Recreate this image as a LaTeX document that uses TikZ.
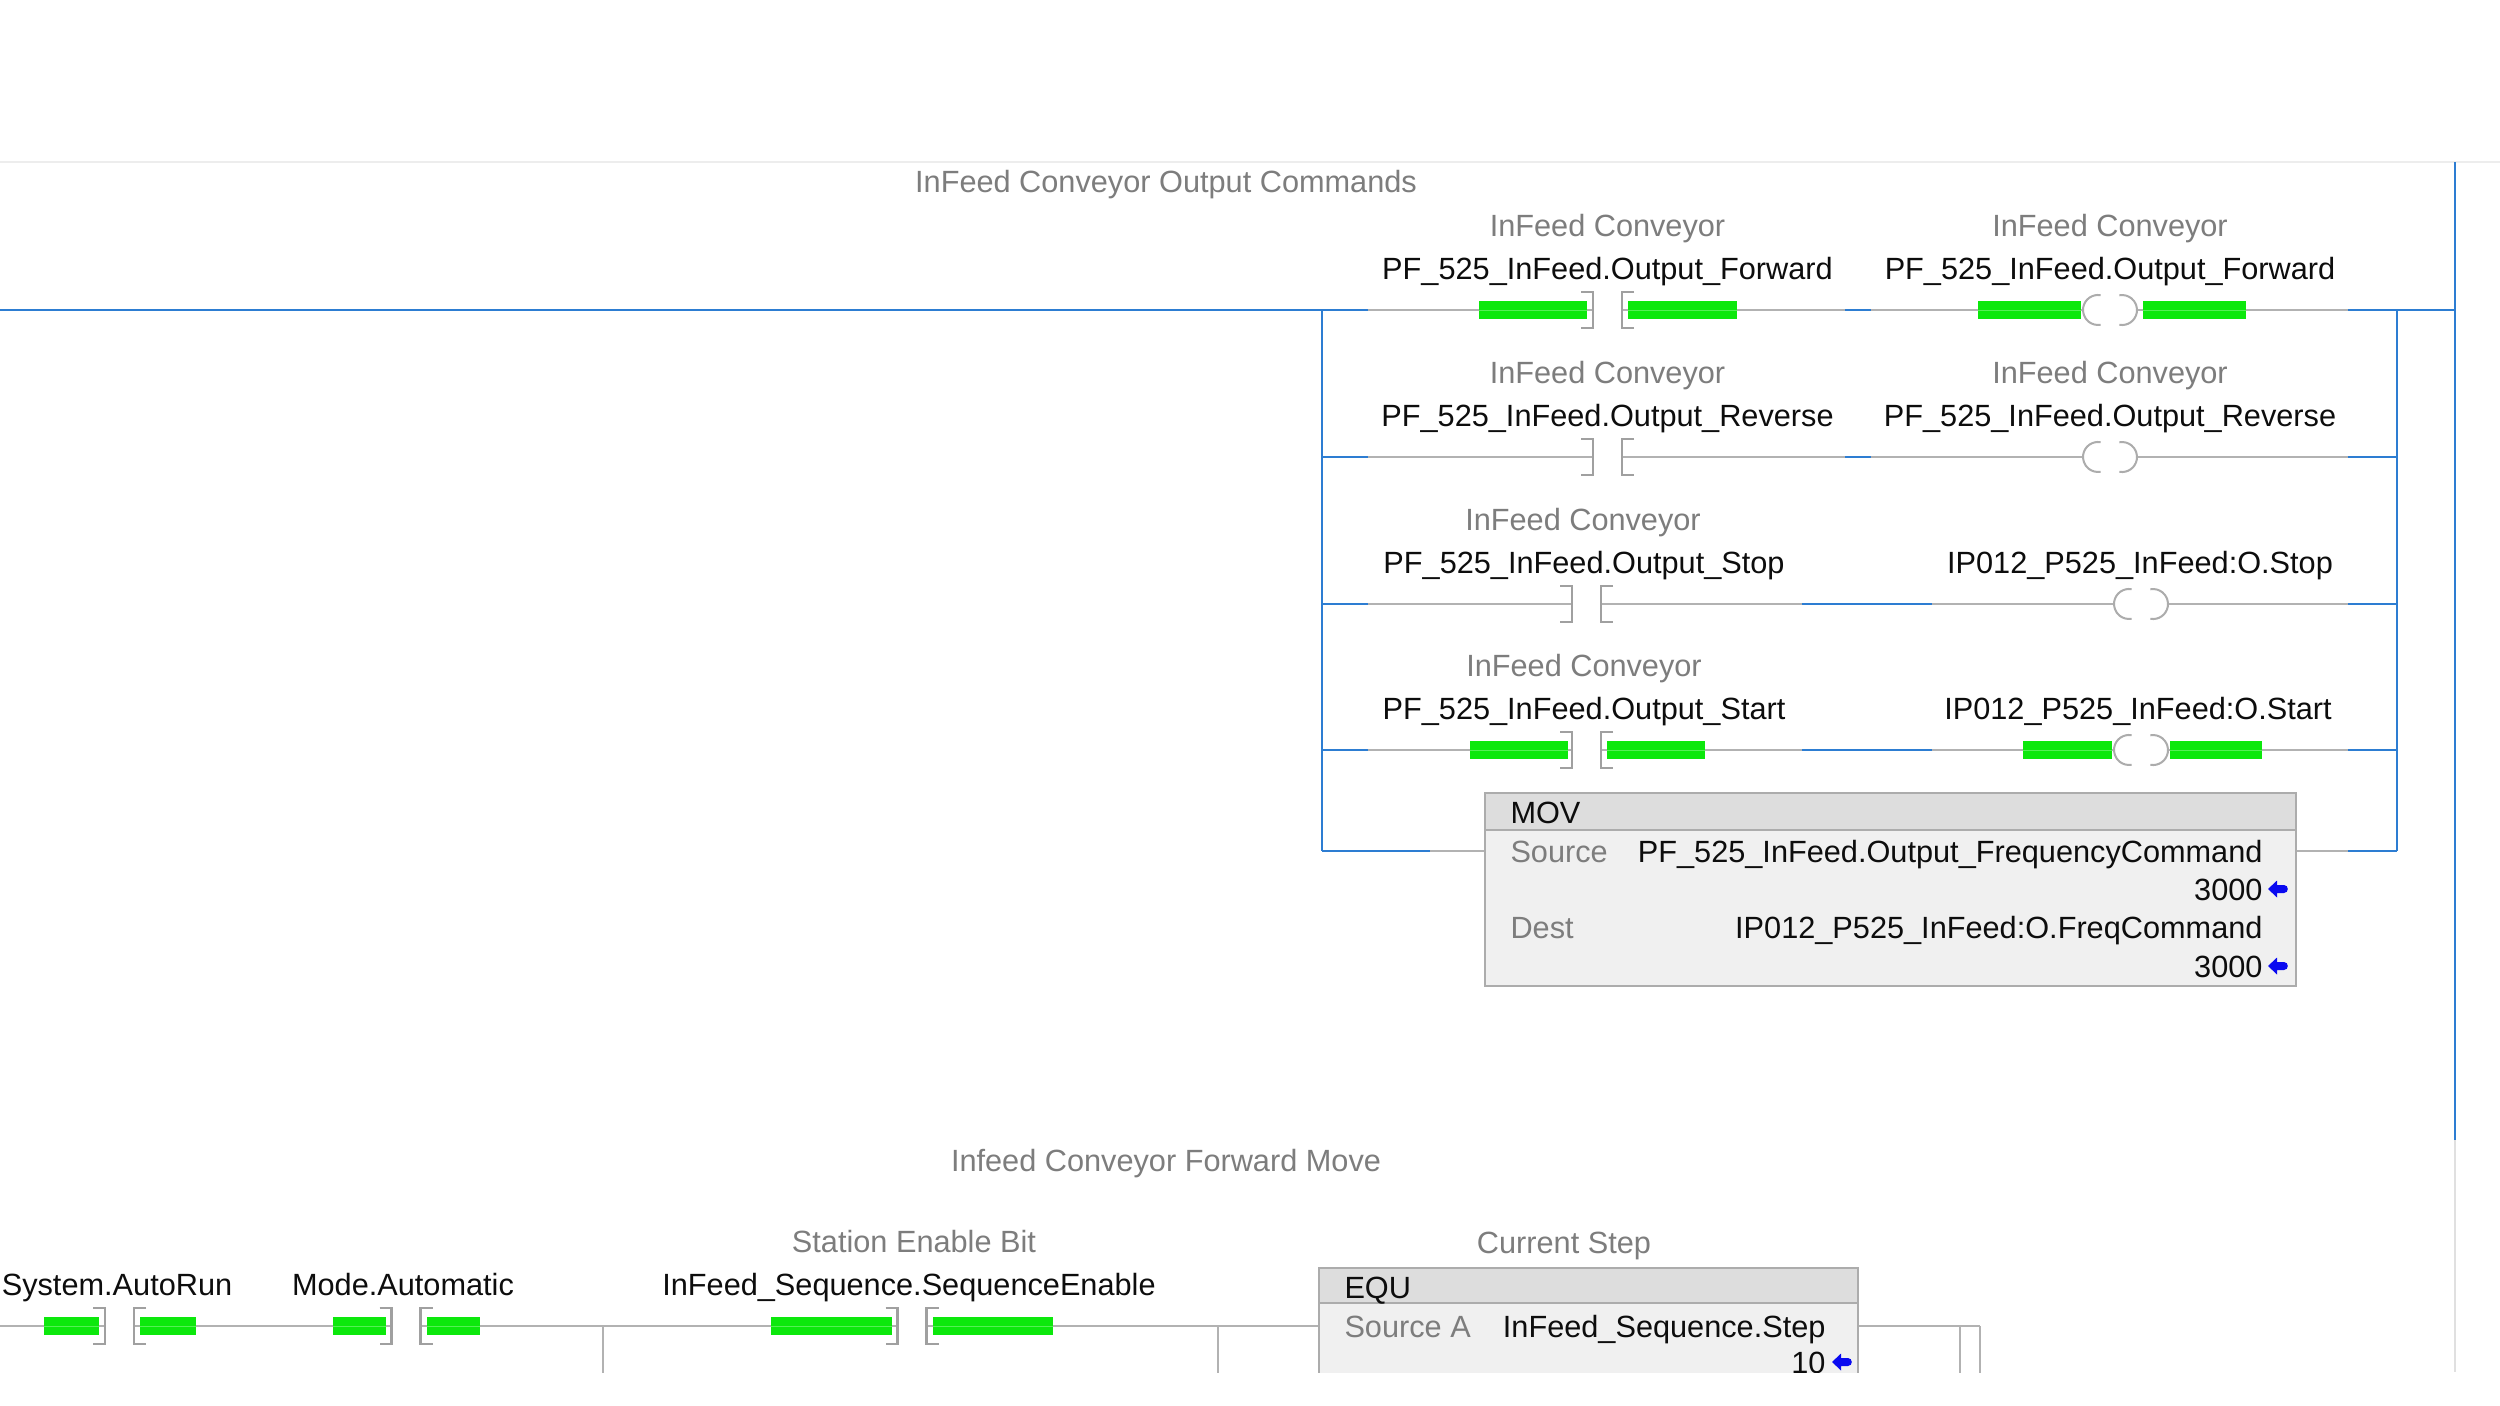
\documentclass[tikz,border=0pt]{standalone}
\usepackage{fontspec}
\setmainfont{Liberation Sans}
\definecolor{rblue}{RGB}{45,125,210}
\definecolor{rgray}{RGB}{178,178,178}
\definecolor{bgray}{RGB}{160,160,160}
\definecolor{cgray}{RGB}{172,172,172}
\definecolor{lgreen}{RGB}{12,232,12}
\definecolor{tgray}{RGB}{125,125,125}
\definecolor{boxfill}{RGB}{240,240,240}
\definecolor{boxhead}{RGB}{221,221,221}
\definecolor{boxline}{RGB}{172,172,172}
\definecolor{arrowblue}{RGB}{10,10,240}
\newcommand\ldbar[3]{\fill[lgreen] (#1,#3-9) rectangle (#2,#3+9);
  \draw[line width=0.35pt,draw=lgreen!70!white] (#1,#3) -- (#2,#3);}
\begin{document}
\begin{tikzpicture}[x=0.4pt,y=-0.4pt,
  wire/.style={draw=rgray,line width=0.9pt},
  bwire/.style={draw=rblue,line width=1.1pt},
  brk/.style={draw=bgray,line width=0.9pt},
  coilc/.style={draw=cgray,line width=0.8pt},
  lbl/.style={inner sep=0pt,anchor=base,font=\fontsize{12.28}{14}\selectfont,text=black!95},
  sub/.style={lbl,text=tgray},
  xic/.pic={\draw[brk] (-26.5,-18) -- (-14.5,-18) -- (-14.5,18) -- (-26.5,18);
            \draw[brk] (26.5,-18) -- (14.5,-18) -- (14.5,18) -- (26.5,18);},
  ote/.pic={\draw[coilc] (-9.4,-14.8) arc[start angle=80,end angle=280,radius=6pt];
            \draw[coilc] (9.4,14.8) arc[start angle=-100,end angle=100,radius=6pt];},
  barrow/.pic={\fill[arrowblue] (0,0) -- (9,-8.5) -- (9,-4) -- (16,-4) to[out=0,in=0,looseness=1.6] (16,4) -- (9,4) -- (9,8.5) -- cycle;},
  ibox/.style={draw=boxline,line width=1.1pt,fill=boxfill},
  ihead/.style={draw=boxline,line width=1.1pt,fill=boxhead}
]
\fill[white] (0,0) rectangle (2500,1406);
\useasboundingbox (0,0) rectangle (2500,1406);

% faint top line and right rail
\coordinate (TL) at (0,162);
\coordinate (TR) at (2500,162);
\draw[draw=black!7,line width=0.8pt] (TL) -- (TR);
\coordinate (RT) at (2455,162);
\coordinate (RM) at (2455,1140);
\coordinate (RB) at (2455,1372);
\draw[bwire] (RT) -- (RM);
\draw[draw=black!12,line width=0.9pt] (RM) -- (RB);

% title
\node[sub] (t1) at (1166,192) {InFeed Conveyor Output Commands};

% branch rails
\coordinate (LE) at (0,310);
\coordinate (BL1) at (1322,310);
\coordinate (BL5) at (1322,851);
\coordinate (BR1) at (2397,310);
\coordinate (BR5) at (2397,851);
\draw[bwire] (LE) -- (BL1);
\draw[bwire] (BL1) -- (BL5);
\draw[bwire] (BR1) -- (BR5);
\draw[bwire] (BR1) -- (RT |- BR1);

% rows: y, contact x, blue stub start, end, coil x
\foreach \y/\cx/\ba/\bb/\kx in {310/1607.5/1845/1871/2110, 457/1607.5/1845/1871/2110, 604/1586.5/1802/1932/2141, 750/1586.5/1802/1932/2141}{
  \draw[bwire] (1322,\y) -- (1368,\y);
  \draw[wire] (1368,\y) -- (\cx-14.5,\y);
  \draw[wire] (\cx+14.5,\y) -- (\ba,\y);
  \draw[bwire] (\ba,\y) -- (\bb,\y);
  \draw[wire] (\bb,\y) -- (\kx-27,\y);
  \draw[wire] (\kx+27,\y) -- (2348,\y);
  \draw[bwire] (2348,\y) -- (2397,\y);
}

% green (energized) bars
\ldbar{1479}{1587}{310}
\ldbar{1628}{1737}{310}
\ldbar{1978}{2081}{310}
\ldbar{2143}{2246}{310}
\ldbar{1470}{1568}{750}
\ldbar{1607}{1705}{750}
\ldbar{2023}{2112}{750}
\ldbar{2170}{2262}{750}

% instructions
\pic at (1607.5,310) {xic};
\pic at (2110,310) {ote};
\pic at (1607.5,457) {xic};
\pic at (2110,457) {ote};
\pic at (1586.5,604) {xic};
\pic at (2141,604) {ote};
\pic at (1586.5,750) {xic};
\pic at (2141,750) {ote};

% row labels
\node[sub] (d1) at (1607.5,236) {InFeed Conveyor};
\node[lbl] (n1) at (1607.5,279) {PF\_525\_InFeed.Output\_Forward};
\node[sub] (d2) at (2110,236) {InFeed Conveyor};
\node[lbl] (n2) at (2110,279) {PF\_525\_InFeed.Output\_Forward};
\node[sub] (d3) at (1607.5,383) {InFeed Conveyor};
\node[lbl] (n3) at (1607.5,426) {PF\_525\_InFeed.Output\_Reverse};
\node[sub] (d4) at (2110,383) {InFeed Conveyor};
\node[lbl] (n4) at (2110,426) {PF\_525\_InFeed.Output\_Reverse};
\node[sub] (d5) at (1583,530) {InFeed Conveyor};
\node[lbl] (n5) at (1584,573) {PF\_525\_InFeed.Output\_Stop};
\node[lbl] (n6) at (2140,573) {IP012\_P525\_InFeed:O.Stop};
\node[sub] (d7) at (1584,676) {InFeed Conveyor};
\node[lbl] (n7) at (1584,719) {PF\_525\_InFeed.Output\_Start};
\node[lbl] (n8) at (2138,719) {IP012\_P525\_InFeed:O.Start};

% MOV row
\draw[bwire] (1322,851) -- (1430,851);
\draw[wire] (1430,851) -- (1485,851);
\draw[wire] (2296,851) -- (2348,851);
\draw[bwire] (2348,851) -- (BR5);
\draw[ibox] (1485,793) rectangle (2296,986);
\draw[ihead] (1485,793) rectangle (2296,830);
\node[lbl,anchor=base west] (mov) at (1510,823) {MOV};
\node[sub,anchor=base west] (msrc) at (1510,862) {Source};
\node[lbl,anchor=base east] (msrcv) at (2263,862) {PF\_525\_InFeed.Output\_FrequencyCommand};
\node[lbl,anchor=base east] (msrcn) at (2263,900) {3000};
\pic at (2268,889) {barrow};
\node[sub,anchor=base west] (mdst) at (1510,938) {Dest};
\node[lbl,anchor=base east] (mdstv) at (2263,938) {IP012\_P525\_InFeed:O.FreqCommand};
\node[lbl,anchor=base east] (mdstn) at (2263,977) {3000};
\pic at (2268,966) {barrow};

% second rung
\node[sub] (t2) at (1166,1171) {Infeed Conveyor Forward Move};
\begin{scope}
\clip (0,0) rectangle (2500,1372);
\coordinate (L2) at (0,1326);
\coordinate (E2) at (1319,1326);
\draw[wire] (L2) -- (106,1326);
\draw[wire] (133,1326) -- (392,1326);
\draw[wire] (420,1326) -- (898,1326);
\draw[wire] (926,1326) -- (E2);
\draw[wire] (603,1326) -- (603,1380);
\draw[wire] (1218,1326) -- (1218,1380);
\draw[wire] (1858,1326) -- (1980,1326);
\draw[wire] (1960,1326) -- (1960,1380);
\draw[wire] (1980,1326) -- (1980,1380);
\ldbar{44}{99}{1326}
\ldbar{140}{196}{1326}
\ldbar{333}{386}{1326}
\ldbar{427}{480}{1326}
\ldbar{771}{892}{1326}
\ldbar{933}{1053}{1326}
\pic at (119.5,1326) {xic};
\pic at (406,1326) {xic};
\pic at (912,1326) {xic};
\node[lbl] (s1) at (117,1295) {System.AutoRun};
\node[lbl] (s2) at (403,1295) {Mode.Automatic};
\node[sub] (s3d) at (914,1252) {Station Enable Bit};
\node[lbl] (s3) at (909,1295) {InFeed\_Sequence.SequenceEnable};
\node[sub] (eqd) at (1564,1253) {Current Step};
\draw[ibox] (1319,1268) rectangle (1858,1420);
\draw[ihead] (1319,1268) rectangle (1858,1303);
\node[lbl,anchor=base west] (equ) at (1344,1298) {EQU};
\node[sub,anchor=base west] (esa) at (1344,1337) {Source A};
\node[lbl,anchor=base east] (esav) at (1826,1337) {InFeed\_Sequence.Step};
\node[lbl,anchor=base east] (esan) at (1826,1373) {10};
\pic at (1832,1362) {barrow};
\end{scope}
\end{tikzpicture}
\end{document}
